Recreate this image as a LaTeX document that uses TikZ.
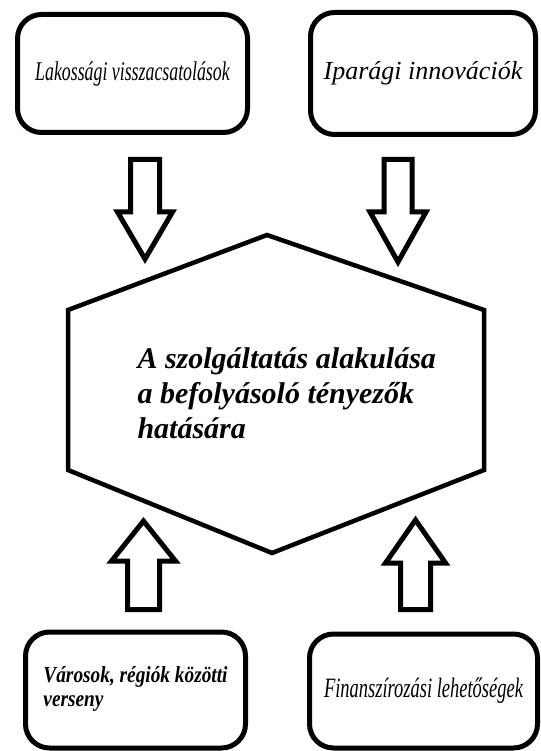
\documentclass[tikz,border=0pt]{standalone}
\usepackage{fontspec}
\setmainfont{Liberation Serif}
\newfontfamily\condfont[FakeStretch=0.66]{Liberation Serif}
\newfontfamily\semicondfont[FakeStretch=0.84]{Liberation Serif}
\usetikzlibrary{calc}
\newcommand\hollowarrow[6]{\draw[arrowline] (#1-#5,#2) -- (#1+#5,#2) -- (#1+#5,#3) -- (#1+#6,#3) -- (#1,#4) -- (#1-#6,#3) -- (#1-#5,#3) -- cycle;}
\tikzset{
  factorbox/.style={draw, line width=5pt, rounded corners=24pt, inner sep=0pt},
  arrowline/.style={line width=5pt},
  hexline/.style={line width=4.5pt, line join=miter}
}

\begin{document}
\begin{tikzpicture}[x=1pt, y=-1pt]
		%%%%% START %%%%%
		\useasboundingbox (0,0) rectangle (540,751);
		
		% factor boxes
		\node[factorbox, minimum width=230pt, minimum height=118pt] (lakossag) at (132.5,73.5)
			{\fontsize{27}{30}\condfont\itshape Lakossági visszacsatolások};
		\node[factorbox, minimum width=225pt, minimum height=122pt] (ipar) at (423,73.5)
			{\fontsize{26}{30}\selectfont\itshape Iparági innovációk};
		\node[factorbox, minimum width=220pt, minimum height=116pt] (verseny) at (135.5,690)
			{\raisebox{-5pt}{\fontsize{23}{24}\semicondfont\bfseries\itshape
			 \begin{tabular}{@{}l@{}}Városok, régiók közötti\\[0pt] verseny\end{tabular}}};
		\node[factorbox, minimum width=228pt, minimum height=114pt] (finansz) at (423.5,691)
			{\fontsize{28}{30}\condfont\itshape Finanszírozási lehetőségek};
		
		% central hexagon
		\draw[hexline] (267,235) -- (484,310) -- (484,470) -- (272,553) -- (68,470) -- (68,310) -- cycle;
		\node[anchor=west, align=left, font=\fontsize{30}{35}\selectfont\bfseries\itshape] (szolg) at (134,393)
			{A szolgáltatás alakulása\\a befolyásoló tényezők\\hatására};
		
		% block arrows
		\hollowarrow{145}{159.5}{212}{259}{14.5}{27.5}
		\hollowarrow{398}{159.5}{212}{262}{14}{28}
		\hollowarrow{143.5}{609.5}{561}{521}{16}{32}
		\hollowarrow{415.5}{609.5}{563}{520}{15}{30}
		
		%%%%% END %%%%%
	\end{tikzpicture}
\end{document}
